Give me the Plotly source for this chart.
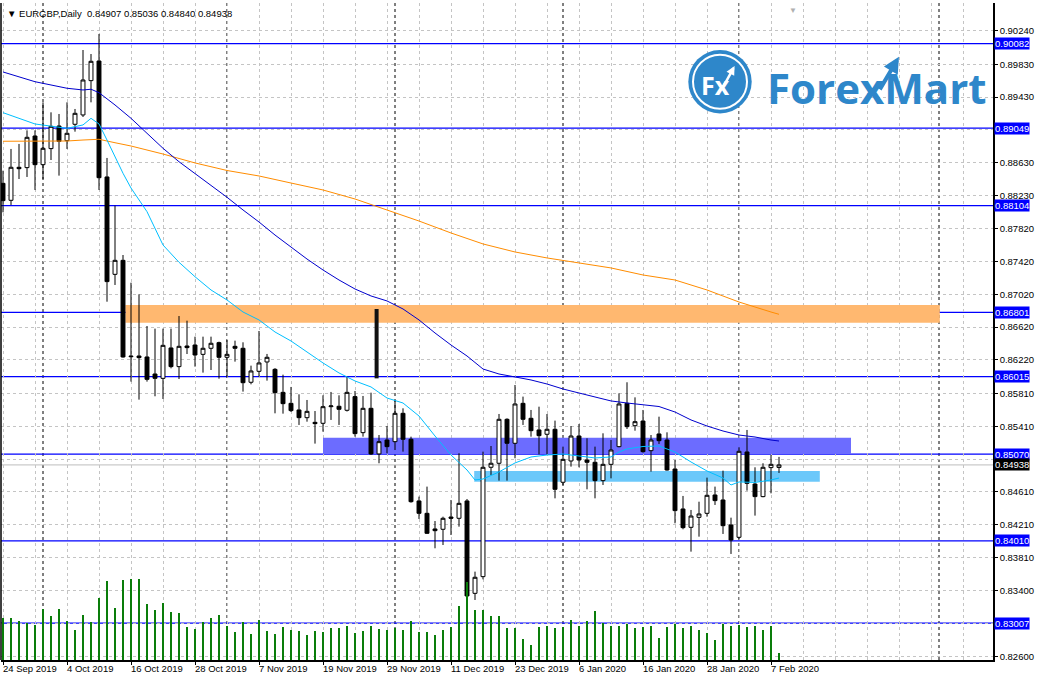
import plotly.graph_objects as go

# EURGBP daily candles, 24 Sep 2019 .. 10 Feb 2020 (bar index = position)
opens = [0.88376, 0.88169, 0.88572, 0.88568, 0.88954, 0.88604, 0.88800, 0.89076, 0.88897, 0.89097,
         0.89211, 0.89630, 0.89870, 0.88454, 0.87265, 0.87436, 0.86268, 0.86268, 0.86256, 0.86048,
         0.85995, 0.86366, 0.86138, 0.86390, 0.86402, 0.86288, 0.86362, 0.86431, 0.86252, 0.86386,
         0.86362, 0.85947, 0.86081, 0.86195, 0.86105, 0.85824, 0.85690, 0.85609, 0.85515, 0.85458,
         0.85446, 0.85649, 0.85654, 0.85605, 0.85772, 0.85332, 0.85629, 0.85072, 0.85242, 0.85222,
         0.85568, 0.85251, 0.84498, 0.84347, 0.84156, 0.84152, 0.84302, 0.84286, 0.84498, 0.83370,
         0.83574, 0.84909, 0.84958, 0.85495, 0.85202, 0.85690, 0.85507, 0.85365, 0.85312, 0.85373,
         0.84726, 0.84986, 0.85291, 0.84998, 0.84970, 0.84746, 0.84945, 0.85161, 0.85690, 0.85417,
         0.85474, 0.85112, 0.85316, 0.85242, 0.84888, 0.84400, 0.84176, 0.84298, 0.84347, 0.84571,
         0.84510, 0.84205, 0.84054, 0.85096, 0.84705, 0.84551, 0.84905, 0.84907]
highs = [0.88531, 0.88796, 0.88857, 0.89023, 0.89023, 0.89365, 0.89243, 0.89223, 0.89365, 0.89284,
         0.90004, 0.89955, 0.90200, 0.88686, 0.88104, 0.87501, 0.87163, 0.87021, 0.86634, 0.86602,
         0.86602, 0.86602, 0.86756, 0.86699, 0.86504, 0.86504, 0.86504, 0.86443, 0.86463, 0.86455,
         0.86435, 0.86150, 0.86573, 0.86293, 0.86120, 0.86040, 0.85890, 0.85800, 0.85731, 0.85596,
         0.85788, 0.85829, 0.85788, 0.86016, 0.85841, 0.85780, 0.85820, 0.85303, 0.85413, 0.85731,
         0.85629, 0.85283, 0.84551, 0.84673, 0.84253, 0.84306, 0.84510, 0.85080, 0.84522, 0.83635,
         0.85100, 0.85169, 0.85560, 0.85507, 0.85914, 0.85772, 0.85609, 0.85649, 0.85560, 0.85479,
         0.85161, 0.85413, 0.85438, 0.85263, 0.85161, 0.85324, 0.85242, 0.85812, 0.85947, 0.85763,
         0.85609, 0.85303, 0.85527, 0.85336, 0.84998, 0.84559, 0.84388, 0.84489, 0.84783, 0.84673,
         0.84868, 0.84294, 0.85153, 0.85365, 0.84909, 0.84958, 0.85059, 0.85036]
lows = [0.88022, 0.88112, 0.88429, 0.88454, 0.88295, 0.88429, 0.88661, 0.88470, 0.88796, 0.89007,
        0.89186, 0.89365, 0.88295, 0.86931, 0.87135, 0.86248, 0.85955, 0.85735, 0.85955, 0.85776,
        0.85743, 0.86117, 0.85987, 0.86292, 0.86138, 0.86065, 0.86097, 0.85991, 0.86008, 0.86199,
        0.85833, 0.85922, 0.86016, 0.85967, 0.85568, 0.85564, 0.85584, 0.85426, 0.85466, 0.85198,
        0.85344, 0.85487, 0.85426, 0.85590, 0.85283, 0.85283, 0.85060, 0.84958, 0.85080, 0.85120,
        0.85100, 0.84477, 0.84278, 0.84095, 0.83920, 0.83960, 0.84082, 0.84184, 0.83289, 0.83289,
        0.83541, 0.84815, 0.84746, 0.84746, 0.85019, 0.85426, 0.85283, 0.85067, 0.85067, 0.84530,
        0.84693, 0.84917, 0.84909, 0.84640, 0.84530, 0.84693, 0.84774, 0.85153, 0.85377, 0.85356,
        0.85088, 0.84856, 0.85194, 0.84868, 0.84225, 0.84152, 0.83879, 0.84062, 0.84306, 0.84449,
        0.84095, 0.83851, 0.84030, 0.84624, 0.84319, 0.84543, 0.84591, 0.84840]
closes = [0.88165, 0.88572, 0.88555, 0.88938, 0.88604, 0.88804, 0.89072, 0.88889, 0.88987, 0.89231,
          0.89638, 0.89866, 0.88445, 0.87176, 0.87436, 0.86256, 0.86260, 0.86248, 0.85983, 0.85995,
          0.86398, 0.86138, 0.86386, 0.86370, 0.86280, 0.86362, 0.86423, 0.86252, 0.86288, 0.86362,
          0.85942, 0.86085, 0.86183, 0.86252, 0.85820, 0.85686, 0.85601, 0.85515, 0.85592, 0.85442,
          0.85649, 0.85658, 0.85617, 0.85824, 0.85320, 0.85629, 0.85072, 0.85222, 0.85161, 0.85568,
          0.85251, 0.84489, 0.84347, 0.84103, 0.84135, 0.84286, 0.84286, 0.84469, 0.83338, 0.83566,
          0.84909, 0.84958, 0.85495, 0.85202, 0.85682, 0.85495, 0.85356, 0.85295, 0.85373, 0.84640,
          0.85006, 0.85291, 0.84998, 0.84970, 0.84746, 0.84945, 0.85120, 0.85682, 0.85405, 0.85466,
          0.85100, 0.85242, 0.85234, 0.84876, 0.84380, 0.84172, 0.84314, 0.84339, 0.84567, 0.84502,
          0.84196, 0.84021, 0.85104, 0.84713, 0.84551, 0.84909, 0.84945, 0.84938]
volumes = [63000, 63000, 58500, 55500, 52000, 76500, 66000, 76500, 58500, 45000,
           67500, 57000, 93500, 118500, 78000, 120000, 121500, 121500, 84000, 75000,
           85500, 72000, 70500, 49500, 46500, 57000, 63000, 67500, 51000, 42000,
           57000, 39000, 60000, 43500, 39000, 49500, 45000, 43500, 37500, 43500,
           42000, 48000, 48000, 51000, 40500, 43500, 51000, 46500, 45000, 48500,
           45000, 58500, 42000, 42000, 37500, 45000, 49500, 81000, 117000, 75000,
           75000, 66000, 66000, 48000, 48000, 31500, 22500, 49500, 51000, 48000,
           49500, 60000, 51000, 58500, 73500, 55500, 51000, 51000, 54000, 48000,
           49500, 51000, 33000, 49500, 54000, 48000, 51000, 45000, 40500, 30000,
           54000, 51000, 52500, 49500, 51000, 45000, 51000, 10500]

# moving averages at sample bars
ma_fast_bars = [0, 4, 8, 10, 11, 12, 13, 14, 15, 16, 18, 20, 22, 24, 26, 28, 30, 32, 34, 36, 38, 40,
                42, 44, 46, 48, 50, 52, 54, 56, 58, 59, 60, 62, 64, 66, 68, 70, 72, 74, 76, 77, 78,
                80, 82, 84, 86, 88, 90, 91, 92, 94, 96, 97]
ma_fast = [0.89239, 0.89101, 0.89048, 0.89089, 0.89170, 0.89101, 0.88905, 0.88702, 0.88499, 0.88319,
           0.88030, 0.87623, 0.87412, 0.87236, 0.87074, 0.86952, 0.86805, 0.86708, 0.86561, 0.86451,
           0.86317, 0.86183, 0.86061, 0.85963, 0.85890, 0.85755, 0.85694, 0.85535, 0.85291, 0.85059,
           0.84876, 0.84754, 0.84766, 0.84852, 0.84962, 0.85035, 0.85059, 0.85071, 0.85047, 0.85023,
           0.85035, 0.85096, 0.85133, 0.85163, 0.85169, 0.85096, 0.84974, 0.84864, 0.84778, 0.84693,
           0.84730, 0.84724, 0.84754, 0.84778]
ma_mid_bars = [0, 4, 8, 10, 11, 12, 14, 16, 18, 20, 22, 24, 26, 28, 30, 32, 34, 36, 38, 40, 42, 44,
               46, 48, 50, 52, 54, 56, 58, 60, 62, 64, 66, 68, 70, 72, 74, 76, 78, 80, 82, 84, 86,
               88, 90, 92, 94, 96, 97]
ma_mid = [0.89736, 0.89617, 0.89537, 0.89516, 0.89525, 0.89483, 0.89333, 0.89170, 0.88987, 0.88804,
          0.88640, 0.88499, 0.88356, 0.88206, 0.88051, 0.87904, 0.87745, 0.87599, 0.87452, 0.87318,
          0.87196, 0.87086, 0.87001, 0.86940, 0.86842, 0.86708, 0.86549, 0.86402, 0.86268, 0.86109,
          0.86048, 0.86012, 0.85975, 0.85926, 0.85865, 0.85816, 0.85767, 0.85719, 0.85694, 0.85676,
          0.85651, 0.85584, 0.85487, 0.85413, 0.85352, 0.85303, 0.85279, 0.85242, 0.85230]
ma_slow_bars = [0, 8, 10, 12, 14, 16, 20, 24, 28, 32, 36, 40, 44, 48, 52, 56, 60, 64, 68, 72, 76,
                80, 84, 88, 92, 96, 97]
ma_slow = [0.88890, 0.88893, 0.88905, 0.88914, 0.88872, 0.88832, 0.88734, 0.88625, 0.88533, 0.88466,
           0.88380, 0.88295, 0.88185, 0.88051, 0.87916, 0.87770, 0.87636, 0.87538, 0.87465, 0.87404,
           0.87343, 0.87257, 0.87196, 0.87074, 0.86927, 0.86805, 0.86777]

levels = [0.90082, 0.89049, 0.88104, 0.86801, 0.86015, 0.85070, 0.84010, 0.83007]
last_price = 0.84938

price_ticks = [0.90240, 0.89830, 0.89430, 0.89030, 0.88630, 0.88230, 0.87820, 0.87420, 0.87020, 0.86620,
               0.86220, 0.85810, 0.85410, 0.85010, 0.84610, 0.84210, 0.83810, 0.83400, 0.83000, 0.82600]
hidden_ticks = [0.89030, 0.85010, 0.83000]
date_labels = ["24 Sep 2019", "4 Oct 2019", "16 Oct 2019", "28 Oct 2019", "7 Nov 2019", "19 Nov 2019",
               "29 Nov 2019", "11 Dec 2019", "23 Dec 2019", "6 Jan 2020", "16 Jan 2020", "28 Jan 2020",
               "7 Feb 2020"]
date_label_bars = list(range(0, 97, 8))
month_sep_bars = [5, 28, 49, 70, 92, 117]

FONT = "Liberation Sans"
bars = list(range(len(opens)))

fig = go.Figure()

fig.add_trace(go.Candlestick(
    x=bars, open=opens, high=highs, low=lows, close=closes,
    increasing=dict(line=dict(color="black", width=1), fillcolor="white"),
    decreasing=dict(line=dict(color="black", width=1), fillcolor="black"),
    whiskerwidth=0, showlegend=False, hoverinfo="skip"))

fig.add_trace(go.Bar(x=bars, y=volumes, yaxis="y2", width=0.16,
                     marker=dict(color="#0a7d0a", line=dict(width=0)),
                     showlegend=False, hoverinfo="skip"))

for xs, ys, col in [(ma_slow_bars, ma_slow, "#FF8C00"),
                    (ma_mid_bars, ma_mid, "#0000CD"),
                    (ma_fast_bars, ma_fast, "#00BFFF")]:
    fig.add_trace(go.Scatter(x=xs, y=ys, mode="lines", line=dict(color=col, width=1),
                             showlegend=False, hoverinfo="skip"))

shapes = []
# analyst zones
shapes.append(dict(type="rect", x0=15.3, x1=117.1, y0=0.86675, y1=0.86891,
                   fillcolor="#FFB870", line=dict(width=0), layer="between"))
shapes.append(dict(type="rect", x0=40.0, x1=106.0, y0=0.85071, y1=0.85271,
                   fillcolor="#6C6CFF", line=dict(width=0), layer="between"))
shapes.append(dict(type="rect", x0=58.9, x1=102.1, y0=0.84733, y1=0.84864,
                   fillcolor="#6CC8FA", line=dict(width=0), layer="between"))
# spike marker drawn on chart
shapes.append(dict(type="line", x0=46.7, x1=46.7, y0=0.85995, y1=0.86842,
                   line=dict(color="#111111", width=4), layer="above"))
# month separators
for b in month_sep_bars:
    shapes.append(dict(type="line", x0=b, x1=b, yref="paper", y0=0, y1=1,
                       line=dict(color="black", width=1, dash="3px,3px"), layer="between"))
# horizontal levels
for lv in levels:
    shapes.append(dict(type="line", xref="paper", x0=0, x1=1, y0=lv, y1=lv,
                       line=dict(color="#0000FF", width=1.2), layer="between"))
shapes.append(dict(type="line", xref="paper", x0=0, x1=1, y0=last_price, y1=last_price,
                   line=dict(color="#BDBDBD", width=1), layer="between"))
# left frame
shapes.append(dict(type="line", xref="paper", yref="paper", x0=0, x1=0, y0=0, y1=1,
                   line=dict(color="black", width=1.5)))
# logo circle
shapes.append(dict(type="circle", xref="paper", yref="paper", x0=0.69284, x1=0.75675,
                   y0=0.83196, y1=0.92846, fillcolor="#2E87CA", line=dict(width=0)))
shapes.append(dict(type="circle", xref="paper", yref="paper", x0=0.69758, x1=0.75202,
                   y0=0.83912, y1=0.92131, line=dict(color="white", width=2)))

annotations = []
for lv in levels:
    annotations.append(dict(x=1, xref="paper", y=lv, yref="y", xanchor="left", yanchor="middle",
                            xshift=1, text=f"{lv:.5f}", showarrow=False, bgcolor="#0000FF",
                            borderpad=0, font=dict(family=FONT, size=9.5, color="white")))
annotations.append(dict(x=1, xref="paper", y=last_price, yref="y", xanchor="left", yanchor="middle",
                        xshift=1, text=f"{last_price:.5f}", showarrow=False, bgcolor="black",
                        borderpad=0, font=dict(family=FONT, size=9.5, color="white")))
for b, lab in zip(date_label_bars, date_labels):
    annotations.append(dict(x=b, y=0, yref="paper", xanchor="left", yanchor="top", xshift=-2,
                            yshift=-1, text=lab, showarrow=False,
                            font=dict(family=FONT, size=9.5, color="black")))
annotations.append(dict(x=0.004, y=0.995, xref="paper", yref="paper", xanchor="left", yanchor="top",
                        text="\u25BC EURGBP,Daily  0.84907 0.85036 0.84840 0.84938", showarrow=False,
                        font=dict(family=FONT, size=9.5, color="black")))
annotations.append(dict(x=0.798, y=0.998, xref="paper", yref="paper", xanchor="center", yanchor="top",
                        text="\u25BC", showarrow=False, font=dict(family=FONT, size=8, color="#B0B0B0")))
# logo
annotations.append(dict(x=0.7205, y=0.875, xref="paper", yref="paper", xanchor="center", yanchor="middle",
                        text="<b>Fx</b>", showarrow=False,
                        font=dict(family="Open Sans", size=25, color="white")))
annotations.append(dict(x=0.7395, y=0.904, xref="paper", yref="paper", ax=-11, ay=20,
                        text="", showarrow=True, arrowhead=2, arrowsize=0.7, arrowwidth=2.5,
                        arrowcolor="white"))
annotations.append(dict(x=0.7702, y=0.872, xref="paper", yref="paper", xanchor="left", yanchor="middle",
                        text="<b>ForexMart</b>", showarrow=False,
                        font=dict(family="Open Sans", size=42, color="#2E87CA")))
annotations.append(dict(x=0.9052, y=0.918, xref="paper", yref="paper", ax=-20, ay=34,
                        text="", showarrow=True, arrowhead=2, arrowsize=0.8, arrowwidth=4,
                        arrowcolor="#2E87CA"))

fig.update_layout(
    width=1039, height=678,
    margin=dict(l=1, r=46, t=3, b=18),
    paper_bgcolor="white", plot_bgcolor="white",
    showlegend=False, bargap=0,
    shapes=shapes, annotations=annotations,
    xaxis=dict(range=[-0.25, 123.75], rangeslider=dict(visible=False),
               tickmode="array", tickvals=date_label_bars, showticklabels=False,
               ticks="outside", ticklen=3, tickcolor="black",
               showgrid=True, gridcolor="#C4C4C4", griddash="3px,3px", gridwidth=1,
               minor=dict(tickmode="linear", tick0=0, dtick=4, showgrid=True,
                          gridcolor="#C4C4C4", griddash="3px,3px", gridwidth=1),
               showline=True, linecolor="black", linewidth=1.5, zeroline=False),
    yaxis=dict(range=[0.82556, 0.90578], side="right", tickmode="array", tickvals=price_ticks,
               ticktext=["" if t in hidden_ticks else f"{t:.5f}" for t in price_ticks],
               ticks="outside", ticklen=3, tickcolor="black",
               tickfont=dict(family=FONT, size=9.5, color="black"),
               showgrid=True, gridcolor="#C4C4C4", griddash="3px,3px", gridwidth=1,
               showline=True, linecolor="black", linewidth=1.5, zeroline=False),
    yaxis2=dict(overlaying="y", range=[0, 985500], visible=False, showgrid=False),
)

# the page's default body margin would shift the fixed-size figure
fig.write_html("out.html", config={"displayModeBar": False},
               post_script="document.body.style.margin='0';document.body.style.overflow='hidden';")
